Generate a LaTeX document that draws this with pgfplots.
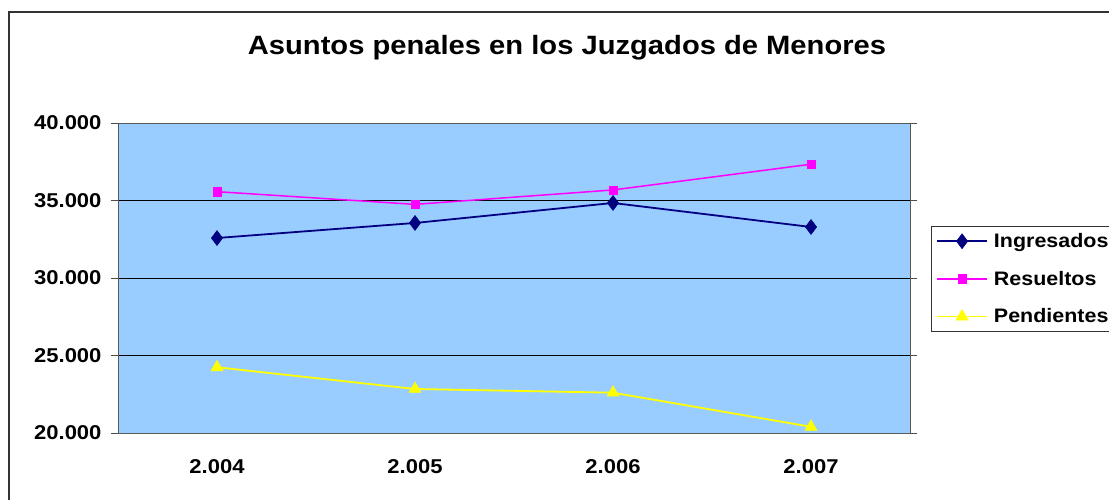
\documentclass[border=0pt]{standalone}
\usepackage{pgfplots}
\pgfplotsset{compat=1.18}
\usepackage{fontspec}
\setmainfont[FakeStretch=1.1]{Liberation Sans}
\definecolor{plotbg}{HTML}{99CCFF}
\definecolor{ingcol}{HTML}{000080}
\definecolor{rescol}{HTML}{FF00FF}
\definecolor{pencol}{HTML}{FFFF00}
\begin{document}
\begin{tikzpicture}[x=1pt,y=1pt]
\path[use as bounding box] (0,0) rectangle (1109,500);
\draw[line width=1.5pt, black!80] (9,-5) -- (9,488) -- (1115,488);
\node[font=\bfseries\fontsize{26.5}{30}\selectfont] at (567,452) {Asuntos penales en los Juzgados de Menores};
\begin{axis}[
  at={(118pt,67pt)}, anchor=south west,
  scale only axis, width=792pt, height=310pt,
  xmin=0.5, xmax=4.5, ymin=20000, ymax=40000,
  scaled y ticks=false,
  axis background/.style={fill=plotbg},
  axis line style={gray!70!black, line width=0.8pt},
  xtick={1,2,3,4}, xticklabels={2.004,2.005,2.006,2.007},
  ytick={20000,25000,30000,35000,40000},
  yticklabels={20.000,25.000,30.000,35.000,40.000},
  major x tick style={draw=none},
  extra x ticks={0.5,1.5,2.5,3.5,4.5},
  extra x tick labels={},
  extra x tick style={tick style={draw=black!70, line width=0.6pt}, major tick length=14pt, grid=none},
  tick align=outside, major tick length=7pt,
  ytick style={draw=black!70, line width=0.6pt},
  ymajorgrids, major grid style={black, line width=0.6pt},
  ticklabel style={font=\bfseries\fontsize{20}{24}\selectfont},
  yticklabel style={xshift=-6pt},
  xticklabel style={yshift=-16pt},
  legend style={at={(axis description cs:1.0265,0.667)}, anchor=north west,
    draw=black!80, fill=white,
    font=\bfseries\fontsize{19.5}{22}\selectfont,
    cells={anchor=west}, row sep=18pt, inner sep=5pt,
    /tikz/every odd column/.append style={column sep=4pt}},
  legend image code/.code={\draw[mark repeat=2,mark phase=2] plot coordinates {(0pt,0pt) (25pt,0pt) (50pt,0pt)};},
]
\addplot[color=ingcol, line width=1.8pt, mark=diamond*, mark size=7.5pt, mark options={solid, fill=ingcol, line width=0.5pt}]
  coordinates {(1,32580) (2,33550) (3,34840) (4,33290)};
\addlegendentry{Ingresados}
\addplot[color=rescol, line width=1.5pt, mark=square*, mark size=4.2pt, mark options={solid, fill=rescol, line width=0.5pt}]
  coordinates {(1,35570) (2,34750) (3,35680) (4,37340)};
\addlegendentry{Resueltos}
\addplot[color=pencol, line width=1.8pt, mark=triangle*, mark size=7pt, mark options={solid, fill=pencol, line width=0.5pt}]
  coordinates {(1,24240) (2,22840) (3,22600) (4,20400)};
\addlegendentry{Pendientes}
\end{axis}
\end{tikzpicture}
\end{document}
